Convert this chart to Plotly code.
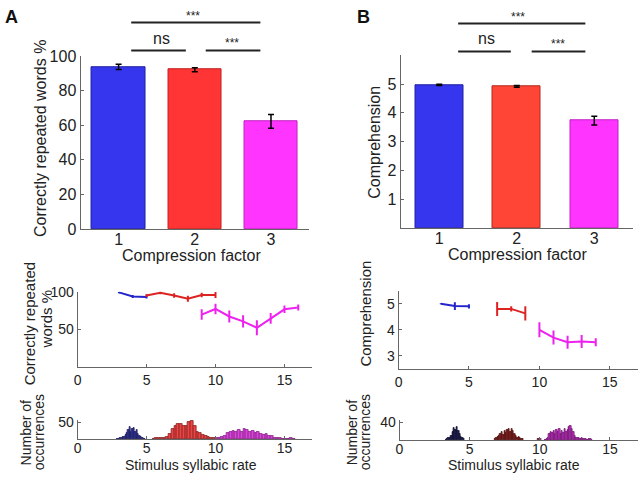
import plotly.graph_objects as go

# ---------------- data ----------------
factors = [1, 2, 3]
words_pct = [93.8, 92.2, 62.3]
words_err = [1.5, 1.2, 4.0]
comprehension = [4.97, 4.92, 3.73]
comprehension_err = [0.02, 0.03, 0.15]

# rate curves panel A (syllabic rate -> % correct)
a_blue_x = [3, 4, 5]
a_blue_y = [99, 93.5, 93]
a_blue_e = [1, 2, 2]
a_red_x = [5, 6, 7, 8, 9, 10]
a_red_y = [95, 98.5, 95, 90.5, 95.5, 95.5]
a_red_e = [2, 2, 3, 4, 3, 4]
a_mag_x = [9, 10, 11, 12, 13, 14, 15, 16]
a_mag_y = [69.5, 77, 67, 60.5, 52, 64.5, 76.5, 79]
a_mag_e = [7, 7, 8, 8, 10, 7, 5, 4]

# rate curves panel B (syllabic rate -> comprehension)
b_blue_x = [3, 4, 5]
b_blue_y = [5.0, 4.91, 4.9]
b_blue_e = [0.02, 0.15, 0.08]
b_red_x = [7, 8, 9]
b_red_y = [4.8, 4.8, 4.63]
b_red_e = [0.27, 0.1, 0.27]
b_mag_x = [10, 11, 12, 13, 14]
b_mag_y = [4.0, 3.7, 3.52, 3.55, 3.52]
b_mag_e = [0.29, 0.27, 0.25, 0.25, 0.15]

# histograms panel A
ha_blue_x = [2.9, 3.0, 3.1, 3.2, 3.3, 3.4, 3.5, 3.6, 3.7, 3.8, 3.9, 4.0, 4.1, 4.2, 4.3, 4.4, 4.5, 4.6, 4.7, 4.8, 4.9]
ha_blue_n = [1, 2, 3, 4, 6, 8, 12, 18, 26, 37, 22, 30, 33, 20, 28, 15, 10, 6, 3, 2, 1]
ha_red_x = [5.5, 5.7, 5.9, 6.1, 6.3, 6.5, 6.7, 6.9, 7.1, 7.3, 7.5, 7.7, 7.9, 8.1, 8.3, 8.5, 8.7, 8.9, 9.1, 9.3, 9.5, 9.7, 9.9]
ha_red_n = [2, 3, 4, 3, 5, 8, 16, 30, 40, 43, 44, 40, 38, 50, 54, 39, 22, 19, 13, 9, 6, 4, 3]
ha_mag_x = [10.1, 10.3, 10.5, 10.7, 10.9, 11.1, 11.3, 11.5, 11.7, 11.9, 12.1, 12.3, 12.5, 12.7, 12.9, 13.1, 13.3,
            13.5, 13.7, 13.9, 14.1, 14.3, 14.5, 14.7, 14.9, 15.1, 15.3, 15.5, 15.7]
ha_mag_n = [3, 5, 7, 10, 18, 22, 24, 20, 28, 22, 30, 27, 21, 25, 18, 20, 14, 12, 15, 11, 9, 5, 4, 3, 2, 1, 1, 5, 1]

# histograms panel B
hb_blue_x = [3.3, 3.4, 3.5, 3.6, 3.7, 3.8, 3.9, 4.0, 4.1, 4.2, 4.3, 4.4, 4.5, 4.6]
hb_blue_n = [1, 2, 4, 6, 10, 18, 28, 22, 29, 20, 15, 8, 5, 2]
hb_red_x = [6.8, 6.9, 7.0, 7.1, 7.2, 7.3, 7.4, 7.5, 7.6, 7.7, 7.8, 7.9, 8.0, 8.1, 8.2, 8.3, 8.4, 8.5, 8.6, 8.7, 8.8, 9.9]
hb_red_n = [2, 4, 8, 10, 14, 18, 12, 20, 16, 22, 25, 18, 24, 20, 14, 10, 6, 8, 4, 3, 2, 2]
hb_mag_x = [10.1, 10.4, 10.5, 10.6, 10.7, 10.8, 10.9, 11.0, 11.1, 11.2, 11.3, 11.4, 11.5, 11.6, 11.7, 11.8, 11.9,
            12.0, 12.1, 12.2, 12.3, 12.4, 12.5, 12.6, 12.7, 12.8, 12.9, 13.0, 13.1, 13.2, 13.3, 13.4, 13.5, 13.6, 13.7]
hb_mag_n = [3, 1, 2, 5, 14, 18, 16, 20, 15, 22, 18, 24, 14, 20, 16, 25, 18, 22, 30, 32, 24, 18, 10, 6, 4, 5, 3, 4,
            2, 3, 2, 1, 2, 3, 1]

# ---------------- helpers ----------------
W, H = 640, 483


def px(x):
    return x / W


def py(y):
    return 1 - y / H


FONT = "Liberation Sans, Arial, sans-serif"
AX = dict(showline=True, linecolor="#666", linewidth=1, ticks="inside", ticklen=3, tickcolor="#666",
          showgrid=False, zeroline=False, fixedrange=True)

fig = go.Figure()

# top bars
fig.add_trace(go.Bar(x=factors, y=words_pct, width=0.7, xaxis="x", yaxis="y",
                     marker=dict(color=["#3636ee", "#ff3535", "#ff35ff"],
                                 line=dict(color=["#2020a0", "#c02020", "#c020c0"], width=1)),
                     error_y=dict(type="data", array=words_err, color="black", thickness=1.5, width=3)))
fig.add_trace(go.Bar(x=factors, y=comprehension, width=0.62, xaxis="x2", yaxis="y2",
                     marker=dict(color=["#3636ee", "#ff4535", "#ff35ff"],
                                 line=dict(color=["#2020a0", "#b02a20", "#c020c0"], width=1)),
                     error_y=dict(type="data", array=comprehension_err, color="black", thickness=1.5, width=3)))

# middle lines
for xs, ys, es, col, xa, ya in [
    (a_blue_x, a_blue_y, a_blue_e, "#2424cc", "x3", "y3"),
    (a_red_x, a_red_y, a_red_e, "#dd2222", "x3", "y3"),
    (a_mag_x, a_mag_y, a_mag_e, "#ee22ee", "x3", "y3"),
    (b_blue_x, b_blue_y, b_blue_e, "#2424cc", "x4", "y4"),
    (b_red_x, b_red_y, b_red_e, "#dd2222", "x4", "y4"),
    (b_mag_x, b_mag_y, b_mag_e, "#ee22ee", "x4", "y4"),
]:
    fig.add_trace(go.Scatter(x=xs, y=ys, mode="lines", line=dict(color=col, width=2), xaxis=xa, yaxis=ya,
                             error_y=dict(type="data", array=es, color=col, thickness=2, width=0)))

# histograms
for xs, ns, w, fill, edge, xa, ya in [
    (ha_blue_x, ha_blue_n, 0.1, "#3a3aa0", "#1c1c60", "x5", "y5"),
    (ha_red_x, ha_red_n, 0.2, "#ee4444", "#882222", "x5", "y5"),
    (ha_mag_x, ha_mag_n, 0.2, "#dd44dd", "#882288", "x5", "y5"),
    (hb_blue_x, hb_blue_n, 0.1, "#22225a", "#101030", "x6", "y6"),
    (hb_red_x, hb_red_n, 0.1, "#8e2424", "#501010", "x6", "y6"),
    (hb_mag_x, hb_mag_n, 0.1, "#cc33cc", "#701870", "x6", "y6"),
]:
    fig.add_trace(go.Bar(x=xs, y=ns, width=w, xaxis=xa, yaxis=ya,
                         marker=dict(color=fill, line=dict(color=edge, width=0.8))))

big = dict(family=FONT, size=16, color="#222")
small = dict(family=FONT, size=14, color="#222")

layout = dict(
    width=W, height=H, margin=dict(l=0, r=0, t=0, b=0),
    plot_bgcolor="white", paper_bgcolor="white", showlegend=False, bargap=0,
    xaxis=dict(AX, domain=[px(77), px(307)], range=[0.5, 3.5], tickvals=[1, 2, 3], tickfont=big,
               anchor="y", ticks="", ticklabelstandoff=-4),
    yaxis=dict(AX, domain=[py(229), py(50)], range=[0, 100], tickvals=[0, 20, 40, 60, 80, 100],
               tickfont=big, anchor="x"),
    xaxis2=dict(AX, domain=[px(399), px(633)], range=[0.5, 3.5], tickvals=[1, 2, 3], tickfont=big,
                anchor="y2", ticks="", ticklabelstandoff=-4),
    yaxis2=dict(AX, domain=[py(228), py(49)], range=[0, 6], tickvals=[1, 2, 3, 4, 5], tickfont=big,
                anchor="x2"),
    xaxis3=dict(AX, domain=[px(74), px(310)], range=[0, 17], tickvals=[0, 5, 10, 15], tickfont=small,
                anchor="y3"),
    yaxis3=dict(AX, domain=[py(372), py(294)], range=[0, 100], tickvals=[50, 100], tickfont=small,
                anchor="x3"),
    xaxis4=dict(AX, domain=[px(397), px(638)], range=[0, 17], tickvals=[0, 5, 10, 15], tickfont=small,
                anchor="y4"),
    yaxis4=dict(AX, domain=[py(374), py(293)], range=[2.5, 5.5], tickvals=[3, 4, 5], tickfont=small,
                anchor="x4"),
    xaxis5=dict(AX, domain=[px(74), px(310)], range=[0, 17], tickvals=[0, 5, 10, 15], tickfont=small,
                anchor="y5", ticklabelstandoff=-4),
    yaxis5=dict(AX, domain=[py(447), py(427)], range=[0, 56], tickvals=[50], tickfont=small, anchor="x5"),
    xaxis6=dict(AX, domain=[px(398), px(638)], range=[0, 17], tickvals=[0, 5, 10, 15], tickfont=small,
                anchor="y6", ticklabelstandoff=-4),
    yaxis6=dict(AX, domain=[py(448), py(427)], range=[0, 45], tickvals=[40], tickfont=small, anchor="x6"),
)
fig.update_layout(**layout)


def note(text, x, y, font, angle=0):
    fig.add_annotation(text=text, x=px(x), y=py(y), xref="paper", yref="paper", showarrow=False,
                       xanchor="center", yanchor="middle", textangle=angle, font=font)


def hline(x0, x1, y):
    fig.add_shape(type="line", xref="paper", yref="paper", x0=px(x0), x1=px(x1), y0=py(y), y1=py(y),
                  line=dict(color="#222", width=2))


# panel letters
note("<b>A</b>", 8, 9, dict(family=FONT, size=18, color="#111"))
note("<b>B</b>", 362, 9, dict(family=FONT, size=18, color="#111"))

# significance markers
hline(128, 258, 15)
hline(128, 183, 44)
hline(203, 258, 44)
note("***", 190, 8, dict(family=FONT, size=12, color="#222"))
note("ns", 158, 32, big)
note("***", 229, 36, dict(family=FONT, size=12, color="#222"))
hline(457, 585, 16)
hline(457, 510, 45)
hline(531, 585, 45)
note("***", 517, 9, dict(family=FONT, size=12, color="#222"))
note("ns", 486, 32, big)
note("***", 557, 37, dict(family=FONT, size=12, color="#222"))

# axis titles
note("Correctly repeated words %", 36, 135, big, -90)
note("Compression factor", 189, 257, big)
note("Comprehension", 372, 139, big, -90)
note("Compression factor", 517, 256, big)
note("Correctly repeated", 26, 327, dict(family=FONT, size=15, color="#222"), -90)
note("words %", 43, 322, dict(family=FONT, size=15, color="#222"), -90)
note("Comprehension", 364, 317, dict(family=FONT, size=15, color="#222"), -90)
note("Number of", 22, 440, small, -90)
note("occurrences", 35, 440, small, -90)
note("Number of", 350, 440, small, -90)
note("occurrences", 363, 440, small, -90)
note("Stimulus syllabic rate", 188, 474, small)
note("Stimulus syllabic rate", 513, 474, small)

fig.write_html("out.html", config={"displayModeBar": False},
               post_script="document.body.style.margin='0';document.body.style.overflow='hidden';")
